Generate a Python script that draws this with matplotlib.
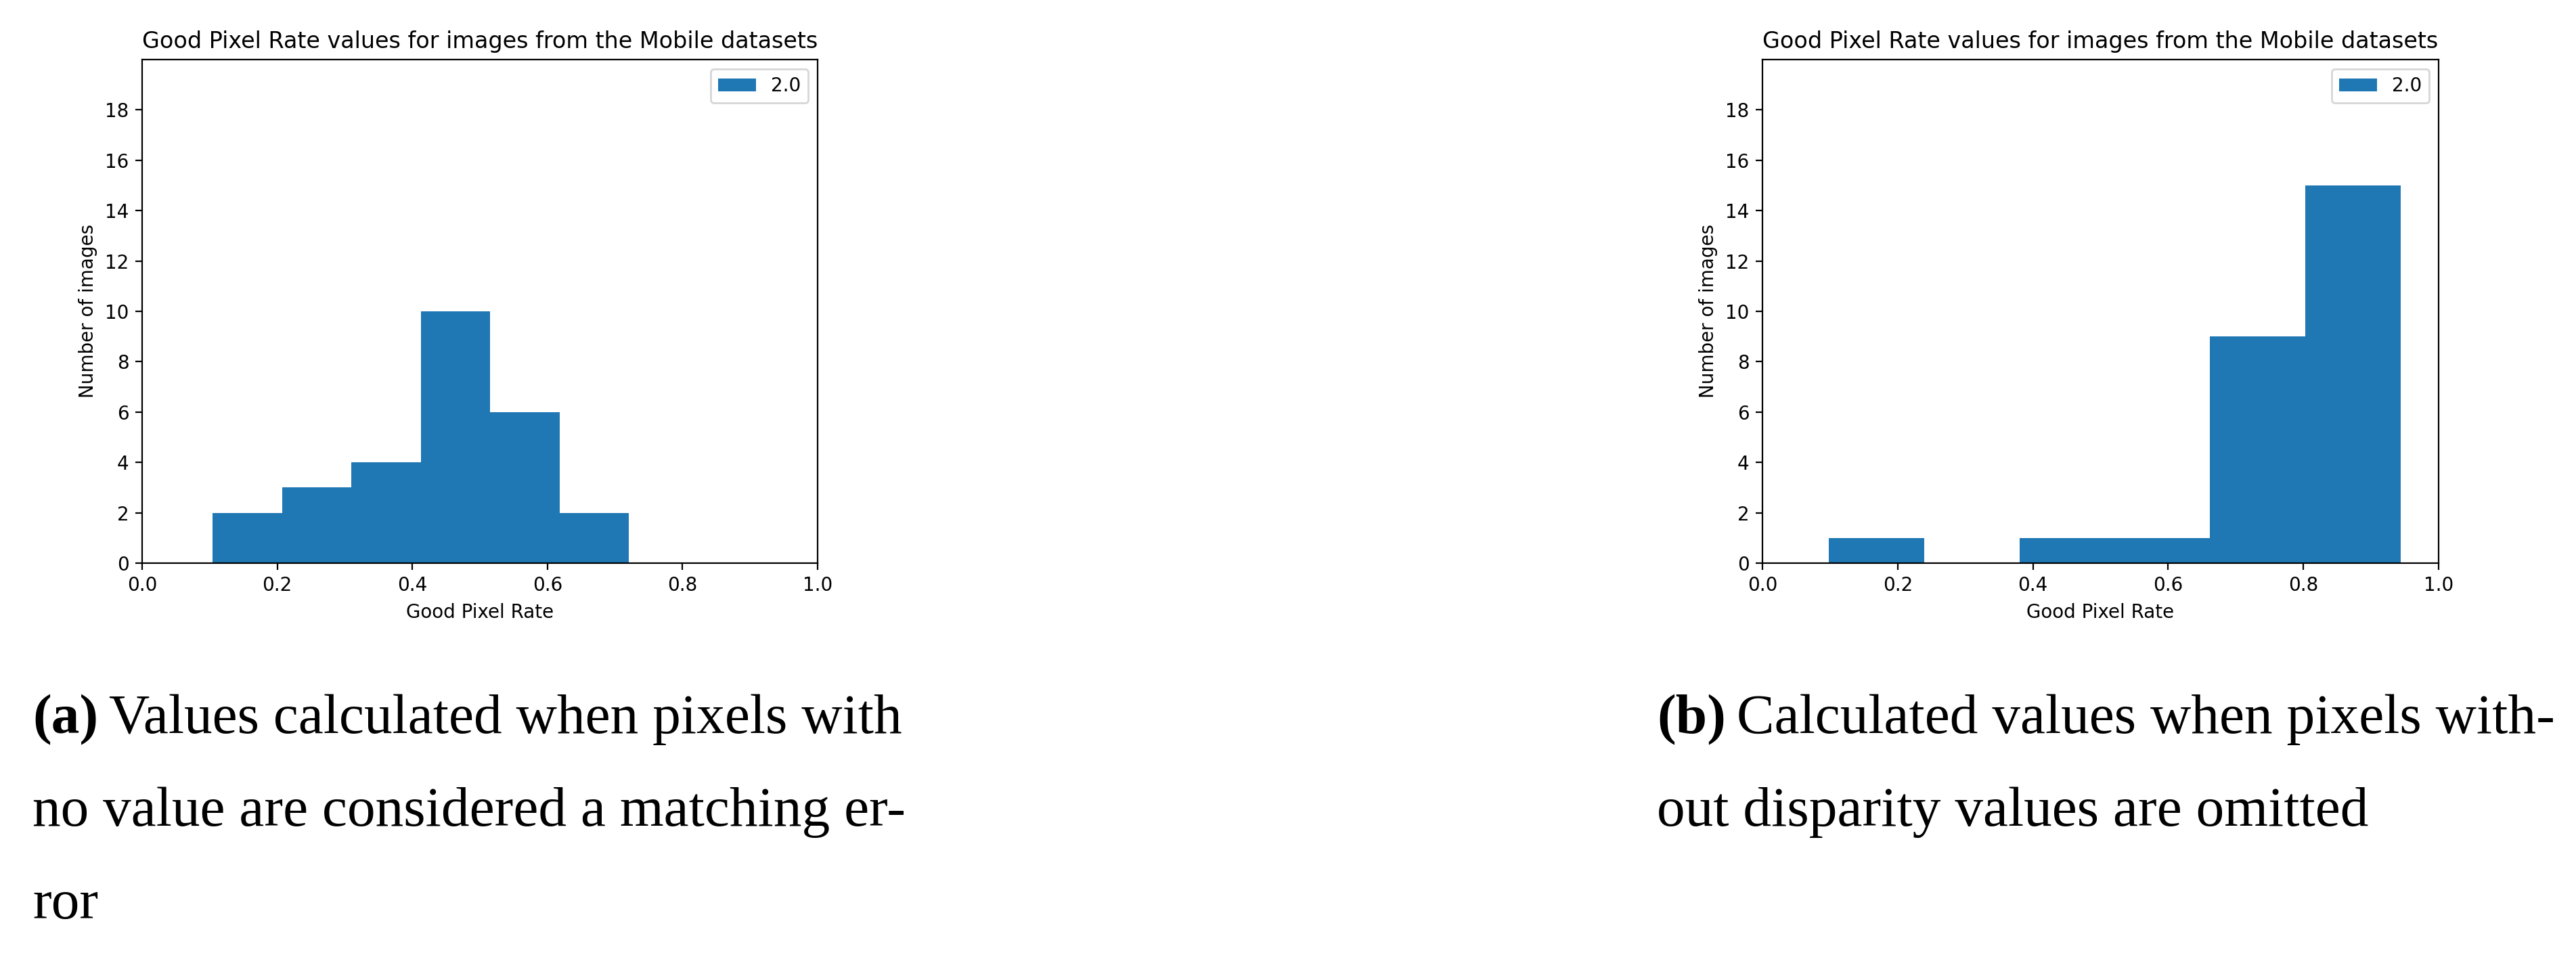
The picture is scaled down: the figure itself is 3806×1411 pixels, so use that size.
import matplotlib
matplotlib.use("Agg")
import matplotlib.pyplot as plt

# histogram bins
left_edges = [0.1046, 0.2073, 0.3100, 0.4126, 0.5153, 0.6180, 0.7207]
left_counts = [2, 3, 4, 10, 6, 2]
right_edges = [0.0982, 0.2392, 0.3802, 0.5212, 0.6621, 0.8031, 0.9441]
right_counts = [1, 0, 1, 1, 9, 15]
series_label = "2.0"
title = "Good Pixel Rate values for images from the Mobile datasets"
yticks = list(range(0, 20, 2))

cap_a = ["Values calculated when pixels with",
         "no value are considered a matching er-",
         "ror"]
cap_b = ["Calculated values when pixels with-",
         "out disparity values are omitted"]

W, H = 3806, 1411
DPI = 200
fig = plt.figure(figsize=(W / DPI, H / DPI), dpi=DPI)

ax1 = fig.add_axes([210 / W, 1 - 832 / H, 998 / W, 744 / H])
ax2 = fig.add_axes([2604 / W, 1 - 832 / H, 999 / W, 744 / H])

for ax, edges, counts in [(ax1, left_edges, left_counts), (ax2, right_edges, right_counts)]:
    ax.hist(edges[:-1], bins=edges, weights=counts, color="#1f77b4", label=series_label)
    ax.set_xlim(0, 1)
    ax.set_ylim(0, 20)
    ax.set_yticks(yticks)
    ax.set_title(title)
    ax.set_xlabel("Good Pixel Rate")
    ax.set_ylabel("Number of images")
    ax.legend(loc="upper right")

# captions underneath, bold (a)/(b) tag then the text
serif = "Liberation Serif"
cap_size = 30
renderer = fig.canvas.get_renderer()


def caption(x_px, tag, lines):
    base = [1083, 1220, 1357]
    t = fig.text(x_px / W, 1 - base[0] / H, tag, fontsize=cap_size, family=serif,
                 fontweight="bold", va="baseline")
    bb = t.get_window_extent(renderer)
    fig.text(bb.x1 / W + 16 / W, 1 - base[0] / H, lines[0], fontsize=cap_size,
             family=serif, va="baseline")
    for i, line in enumerate(lines[1:], start=1):
        fig.text(x_px / W, 1 - base[i] / H, line, fontsize=cap_size, family=serif,
                 va="baseline")


caption(48, "(a)", cap_a)
caption(2448, "(b)", cap_b)

fig.savefig("out.png", dpi=DPI)
